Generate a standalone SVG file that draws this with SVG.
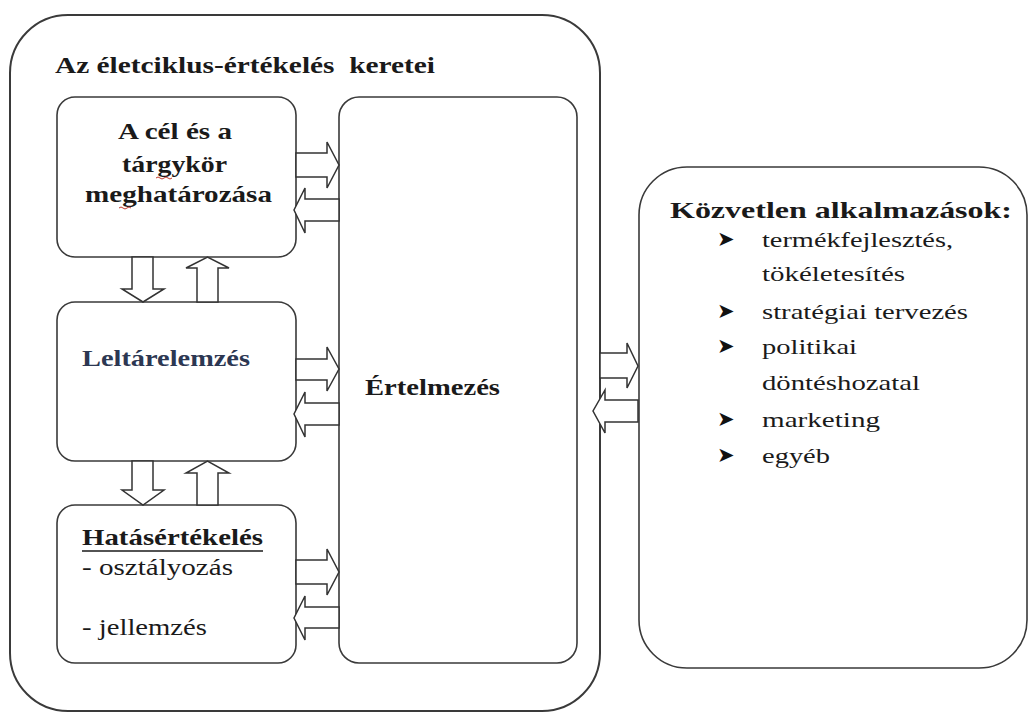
<svg xmlns="http://www.w3.org/2000/svg" width="1030" height="713" viewBox="0 0 1030 713">
<style>
.box{fill:#fff;stroke:#3a3a3a;stroke-width:1.6}
.outer{fill:#fff;stroke:#3a3a3a;stroke-width:2}
.arr{fill:#fff;stroke:#333;stroke-width:1.5;stroke-linejoin:miter}
.b{font-family:'Liberation Serif',serif;font-weight:bold;fill:#1a1a1a}
.r{font-family:'Liberation Serif',serif;fill:#1a1a1a}
.bul{font-family:'DejaVu Sans',sans-serif;fill:#111;font-size:21px}
.sq{fill:none;stroke:#c0392b;stroke-width:1}
</style>
<rect width="1030" height="713" fill="#fff"/>
<g id="frame">
<rect class="outer" x="10" y="15" width="590" height="696" rx="58"/>
<text class="b" font-family="Liberation Serif" x="55" y="73" font-size="24" textLength="380" lengthAdjust="spacingAndGlyphs">Az életciklus-értékelés&#160; keretei</text>
</g>
<g id="node-cel">
<rect class="box" x="57" y="97" width="239" height="160" rx="18"/>
<text class="b" font-family="Liberation Serif" x="118" y="139" font-size="23" textLength="114" lengthAdjust="spacingAndGlyphs">A cél és a</text>
<text class="b" font-family="Liberation Serif" x="122" y="172" font-size="23" textLength="105" lengthAdjust="spacingAndGlyphs">tárgykör</text>
<text class="b" font-family="Liberation Serif" x="85" y="202" font-size="23" textLength="187" lengthAdjust="spacingAndGlyphs">meghatározása</text>
<path class="sq" d="M156,178 q2,-2 4,0 t4,0 t4,0 t4,0"/>
<path class="sq" d="M119,208 q2,-2 4,0 t4,0 t4,0"/>
</g>
<g id="node-leltar">
<rect class="box" x="57" y="302" width="239" height="159" rx="18"/>
<text class="b" font-family="Liberation Serif" x="82" y="366" font-size="23" style="fill:#2c3752" textLength="168" lengthAdjust="spacingAndGlyphs">Leltárelemzés</text>
</g>
<g id="node-hatas">
<rect class="box" x="57" y="505" width="239" height="158" rx="18"/>
<text class="b" font-family="Liberation Serif" x="82" y="545" font-size="23" textLength="181" lengthAdjust="spacingAndGlyphs">Hatásértékelés</text>
<line x1="82" y1="551" x2="263" y2="551" stroke="#1a1a1a" stroke-width="1.6"/>
<text class="r" font-family="Liberation Serif" x="82" y="575" font-size="23" textLength="151" lengthAdjust="spacingAndGlyphs">- osztályozás</text>
<text class="r" font-family="Liberation Serif" x="82" y="635" font-size="23" textLength="125" lengthAdjust="spacingAndGlyphs">- jellemzés</text>
</g>
<g id="node-ertelmezes">
<rect class="box" x="339" y="97" width="238" height="566" rx="20"/>
<text class="b" font-family="Liberation Serif" x="365" y="395" font-size="23" textLength="135" lengthAdjust="spacingAndGlyphs">Értelmezés</text>
</g>
<g id="node-alkalmazasok">
<rect class="box" x="639" y="167" width="388" height="501" rx="48"/>
<text class="b" font-family="Liberation Serif" x="670" y="218" font-size="24" textLength="342" lengthAdjust="spacingAndGlyphs">Közvetlen alkalmazások:</text>
<g class="bul">
<text x="717" y="246">➤</text>
<text x="717" y="318">➤</text>
<text x="717" y="353">➤</text>
<text x="717" y="426">➤</text>
<text x="717" y="462">➤</text>
</g>
<g class="r" font-family="Liberation Serif" font-size="22">
<text x="762" y="247" textLength="191" lengthAdjust="spacingAndGlyphs">termékfejlesztés,</text>
<text x="762" y="281" textLength="143" lengthAdjust="spacingAndGlyphs">tökéletesítés</text>
<text x="762" y="319" textLength="206" lengthAdjust="spacingAndGlyphs">stratégiai tervezés</text>
<text x="762" y="354" textLength="95" lengthAdjust="spacingAndGlyphs">politikai</text>
<text x="762" y="390" textLength="158" lengthAdjust="spacingAndGlyphs">döntéshozatal</text>
<text x="762" y="427" textLength="118" lengthAdjust="spacingAndGlyphs">marketing</text>
<text x="762" y="463" textLength="68" lengthAdjust="spacingAndGlyphs">egyéb</text>
</g>
</g>
<g id="connectors">
<polygon class="arr" points="132,257 153,257 153,289 164,289 143,302 122,289 132,289"/>
<polygon class="arr" points="197,302 197,268 186,268 207.5,257 229,268 218,268 218,302"/>
<polygon class="arr" points="132,461 153,461 153,490 164,490 143,505 122,490 132,490"/>
<polygon class="arr" points="197,505 197,473 186,473 207.5,461 229,473 218,473 218,505"/>
<polygon class="arr" points="296,153 327,153 327,142 339,165 327,188 327,177 296,177"/>
<polygon class="arr" points="339,199 305,199 305,188 294,210 305,233 305,221 339,221"/>
<polygon class="arr" points="296,359 327,359 327,347 339,369 327,391 327,380 296,380"/>
<polygon class="arr" points="339,403 305,403 305,392 294,414 305,437 305,425 339,425"/>
<polygon class="arr" points="296,560 327,560 327,549 339,572 327,595 327,584 296,584"/>
<polygon class="arr" points="339,607 305,607 305,596 294,618 305,640 305,628 339,628"/>
<polygon class="arr" points="600,353 627,353 627,343 638,366 627,388 627,378 600,378"/>
<polygon class="arr" points="638,400 605,400 605,390 593,411 605,433 605,422 638,422"/>
</g>
</svg>
